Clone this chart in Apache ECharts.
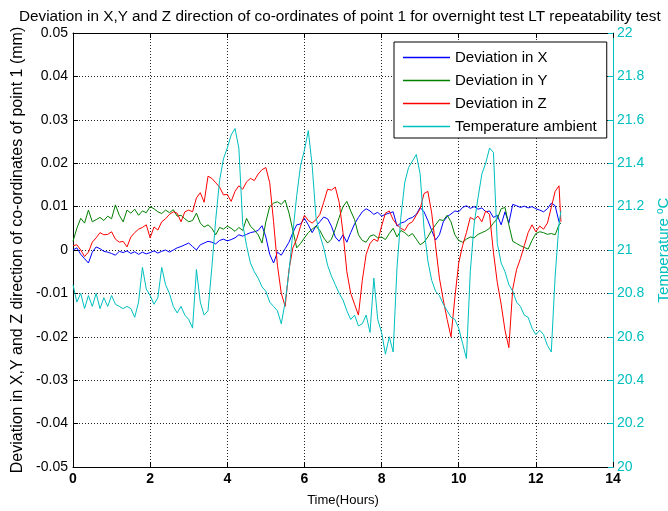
<!DOCTYPE html>
<html>
<head>
<meta charset="utf-8">
<script src="https://cdn.jsdelivr.net/npm/echarts@6/dist/echarts.min.js"></script>
<style>
html,body{margin:0;padding:0;background:#fff;}
#chart{width:668px;height:511px;}
</style>
</head>
<body>
<div id="chart"></div>
<script>
// Time samples (hours)
const hours = [
0,0.1,0.2,0.3,0.4,0.5,0.6,0.7,0.8,0.9,
1,1.1,1.2,1.3,1.4,1.5,1.6,1.7,1.8,1.9,
2,2.1,2.2,2.3,2.4,2.5,2.6,2.7,2.8,2.9,
3,3.1,3.2,3.3,3.4,3.5,3.6,3.7,3.8,3.9,
4,4.1,4.2,4.3,4.4,4.5,4.6,4.7,4.8,4.9,
5,5.1,5.2,5.3,5.4,5.5,5.6,5.7,5.8,5.9,
6,6.1,6.2,6.3,6.4,6.5,6.6,6.7,6.8,6.9,
7,7.1,7.2,7.3,7.4,7.5,7.6,7.7,7.8,7.9,
8,8.1,8.2,8.3,8.4,8.5,8.6,8.7,8.8,8.9,
9,9.1,9.2,9.3,9.4,9.5,9.6,9.7,9.8,9.9,
10,10.1,10.2,10.3,10.4,10.5,10.6,10.7,10.8,10.9,
11,11.1,11.2,11.3,11.4,11.5,11.6,11.7,11.8,11.9,
12,12.1,12.2,12.3,12.4,12.5,12.6,12.65
];

// Deviation in X (mm)
const devX = [
0,0.0005,-0.001,-0.002,-0.003,-0.0005,0.0007,0.0003,-0.0003,-0.0005,
-0.0008,-0.0012,-0.0003,-0.0006,-0.0002,-0.0008,-0.0004,-0.001,-0.0005,-0.0009,
-0.0006,-0.0002,-0.0007,-0.0003,0,-0.0005,0,0.0005,0.0008,0.0012,
0.0016,0.0008,0,0.0012,0.0016,0.002,0.0018,0.0014,0.0022,0.0025,
0.0021,0.0024,0.0028,0.0035,0.0032,0.0036,0.004,0.0042,0.0045,0.0056,
0.003,-0.001,-0.003,-0.0005,-0.0012,0.0003,0.0018,0.004,0.0058,0.006,
0.0073,0.0058,0.004,0.0055,0.0065,0.0076,0.0072,0.0055,0.003,0.002,
0.0035,0.0018,0.004,0.006,0.0075,0.0088,0.0095,0.009,0.0082,0.0087,
0.0078,0.0082,0.0085,0.0088,0.0055,0.0062,0.0065,0.0072,0.0075,0.0082,
0.0098,0.0088,0.0068,0.0045,0.0023,0.0035,0.0065,0.0077,0.0083,0.009,
0.0088,0.0098,0.0102,0.0096,0.01,0.0094,0.0097,0.0088,0.009,0.0075,
0.008,0.0058,0.0088,0.0062,0.0105,0.0102,0.0098,0.0101,0.0097,0.01,
0.0095,0.0092,0.0088,0.0095,0.0108,0.0102,0.0065,0.006
];

// Deviation in Y (mm)
const devY = [
0.002,0.005,0.0073,0.0062,0.0092,0.0065,0.007,0.0075,0.0068,0.0078,
0.0072,0.0104,0.008,0.0065,0.0092,0.0085,0.0094,0.008,0.009,0.0086,
0.01,0.0095,0.0088,0.0084,0.0092,0.0086,0.0093,0.0078,0.008,0.0072,
0.0065,0.0068,0.0085,0.0062,0.0053,0.0058,0.005,0.0035,0.0052,0.0048,
0.0055,0.005,0.0043,0.0052,0.0045,0.0073,0.0055,0.0046,0.0035,0.0016,
0.0065,0.01,0.0108,0.0111,0.0105,0.0115,0.0085,0.0045,0.0005,0.0015,
0.0028,0.004,0.0048,0.0055,0.0045,0.0028,0.0016,0.0025,0.0048,0.0075,
0.01,0.0112,0.009,0.007,0.0035,0.0022,0.0018,0.0032,0.0035,0.0028,
0.003,0.0024,0.0038,0.005,0.003,0.0045,0.004,0.0032,0.0038,0.0025,
0.0012,0.0018,0.003,0.0046,0.0058,0.007,0.0068,0.008,0.0065,0.0035,
0.0022,0.0018,0.0025,0.003,0.0028,0.0036,0.004,0.0044,0.005,0.0062,
0.0072,0.0095,0.0098,0.0058,0.002,0.0015,0.001,0.0006,0.0002,0.0022,
0.0038,0.0042,0.004,0.0036,0.0038,0.0035,0.0058,0.0062
];

// Deviation in Z (mm)
const devZ = [
0.001,0.0012,0,-0.0015,-0.0005,0.0018,0.0028,0.004,0.0035,0.0036,
0.0042,0.0025,0.0018,0.002,0.0007,0.003,0.004,0.0048,0.0052,0.0058,
0.0028,0.0053,0.0046,0.0065,0.0072,0.0082,0.0088,0.0085,0.0065,0.0088,
0.0092,0.0088,0.012,0.0132,0.011,0.017,0.0165,0.0155,0.0145,0.0127,
0.0128,0.0112,0.0135,0.0148,0.014,0.0157,0.0165,0.016,0.0175,0.0185,
0.019,0.0155,0.0065,-0.0035,-0.01,-0.013,-0.0045,0.0005,0.0025,0.0055,
0.008,0.0068,0.0062,0.007,0.0082,0.011,0.014,0.0138,0.0145,0.011,
0.004,-0.005,-0.01,-0.0125,-0.015,-0.007,-0.001,0.0015,0.0025,0.002,
0.0055,0.0085,0.009,0.007,0.0058,0.005,0.0045,0.006,0.0065,0.008,
0.0095,0.013,0.0135,0.0085,0.001,-0.0065,-0.0115,-0.016,-0.02,-0.011,
-0.003,0.001,0.004,0.0075,0.007,0.0078,0.0065,0.009,0.0082,-0.0005,
-0.0075,-0.0125,-0.0185,-0.0225,-0.009,-0.0045,-0.002,0.001,0.004,0.0058,
0.0042,0.0055,0.0048,0.0062,0.0098,0.0135,0.0148,0.0065
];

// Ambient temperature (deg C)
const tempAmbient = [
20.84,20.76,20.80,20.73,20.79,20.74,20.80,20.73,20.78,20.74,
20.79,20.75,20.74,20.73,20.74,20.73,20.69,20.76,20.92,20.82,
20.79,20.75,20.78,20.92,20.84,20.80,20.74,20.71,20.74,20.70,
20.68,20.64,20.91,20.76,20.70,20.72,20.92,21.14,21.32,21.42,
21.47,21.53,21.56,21.47,21.12,21.02,20.94,20.90,20.87,20.83,
20.81,20.76,20.74,20.72,20.66,20.76,20.90,21.08,21.25,21.39,
21.46,21.55,21.39,21.15,21.07,21.01,20.93,20.88,20.84,20.80,
20.77,20.72,20.68,20.70,20.65,20.66,20.70,20.62,20.87,20.68,
20.62,20.52,20.60,20.53,20.92,21.15,21.31,21.38,21.41,21.44,
21.35,21.10,20.95,20.86,20.81,20.79,20.75,20.72,20.69,20.68,
20.64,20.57,20.50,20.90,21.12,21.24,21.35,21.40,21.47,21.45,
21.03,20.94,20.90,20.84,20.81,20.76,20.74,20.70,20.69,20.64,
20.61,20.63,20.61,20.56,20.53,20.88,21.12,21.18
];

const seriesNames = ['Deviation in X','Deviation in Y','Deviation in Z','Temperature ambient'];
const seriesColors = ['#0000ff','#008000','#ff0000','#00bfbf'];
const FONT = 'Liberation Sans, Arial, sans-serif';
const CYAN = '#00bfbf';

const pair = arr => hours.map((t, i) => [t, arr[i]]);

const chart = echarts.init(document.getElementById('chart'), null, {renderer: 'canvas'});

const gridDotted = {show: true, lineStyle: {color: '#222', type: [1, 2], width: 1}};

chart.setOption({
  animation: false,
  backgroundColor: '#fff',
  textStyle: {fontFamily: FONT},
  title: {
    text: 'Deviation in X,Y and Z direction of co-ordinates of point 1 for overnight test LT repeatability test',
    left: 14, top: 4,
    textStyle: {fontFamily: FONT, fontSize: 15.3, fontWeight: 'normal', color: '#000'}
  },
  legend: {
    orient: 'vertical',
    left: 394, top: 42,
    data: seriesNames.map((n, i) => ({
      name: n,
      icon: 'path://M0,0 L47,0 L47,1.4 L0,1.4 Z',
      itemStyle: {color: seriesColors[i], borderWidth: 0}
    })),
    itemWidth: 47, itemHeight: 2,
    itemGap: 8,
    padding: [8, 10, 4, 9],
    backgroundColor: '#fff',
    borderColor: '#000', borderWidth: 1, borderRadius: 0,
    textStyle: {fontFamily: FONT, fontSize: 15, color: '#000'}
  },
  grid: {left: 73, right: 55, top: 33, bottom: 44, containLabel: false, outerBoundsMode: 'none'},
  xAxis: [{
    type: 'value', min: 0, max: 14, interval: 2, position: 'bottom',
    name: 'Time(Hours)', nameLocation: 'middle', nameGap: 27,
    nameTextStyle: {fontFamily: FONT, fontSize: 13, color: '#000'},
    axisLine: {show: true, onZero: false, lineStyle: {color: '#000', width: 1}},
    axisTick: {show: true, inside: true, length: 5, lineStyle: {color: '#000'}},
    axisLabel: {fontFamily: FONT, fontSize: 14, fontWeight: 'bold', color: '#000', margin: 5},
    splitLine: gridDotted
  }, {
    type: 'value', min: 0, max: 14, interval: 2, position: 'top',
    axisLine: {show: true, onZero: false, lineStyle: {color: '#000', width: 1}},
    axisTick: {show: true, inside: true, length: 5, lineStyle: {color: '#000'}},
    axisLabel: {show: false},
    splitLine: {show: false}
  }],
  yAxis: [{
    type: 'value', min: -0.05, max: 0.05, interval: 0.01, position: 'left',
    name: 'Deviation in X,Y and Z direction of co-ordinates of point 1 (mm)',
    nameLocation: 'middle', nameGap: 47, nameRotate: 90,
    nameTextStyle: {fontFamily: FONT, fontSize: 16, color: '#000'},
    axisLine: {show: true, onZero: false, lineStyle: {color: '#000', width: 1}},
    axisTick: {show: true, inside: true, length: 5, lineStyle: {color: '#000'}},
    axisLabel: {fontFamily: FONT, fontSize: 14, color: '#000', margin: 5,
      formatter: v => String(parseFloat(v.toFixed(2)))},
    splitLine: gridDotted
  }, {
    type: 'value', min: 20, max: 22, interval: 0.2, position: 'right',
    name: 'Temperature {sup|o}C',
    nameLocation: 'middle', nameGap: 41, nameRotate: 90,
    nameTextStyle: {fontFamily: FONT, fontSize: 15, color: CYAN,
      rich: {sup: {fontFamily: FONT, fontSize: 10, color: CYAN, verticalAlign: 'top', padding: [0, 0, 8, 0]}}},
    axisLine: {show: true, onZero: false, lineStyle: {color: CYAN, width: 1}},
    axisTick: {show: true, inside: true, length: 5, lineStyle: {color: CYAN}},
    axisLabel: {fontFamily: FONT, fontSize: 14, color: CYAN, margin: 4,
      formatter: v => String(parseFloat(v.toFixed(1)))},
    splitLine: {show: false}
  }],
  series: [
    {name: seriesNames[0], type: 'line', data: pair(devX), yAxisIndex: 0, showSymbol: false, symbol: 'none',
     lineStyle: {color: seriesColors[0], width: 1}, itemStyle: {color: seriesColors[0]}},
    {name: seriesNames[1], type: 'line', data: pair(devY), yAxisIndex: 0, showSymbol: false, symbol: 'none',
     lineStyle: {color: seriesColors[1], width: 1}, itemStyle: {color: seriesColors[1]}},
    {name: seriesNames[2], type: 'line', data: pair(devZ), yAxisIndex: 0, showSymbol: false, symbol: 'none',
     lineStyle: {color: seriesColors[2], width: 1}, itemStyle: {color: seriesColors[2]}},
    {name: seriesNames[3], type: 'line', data: pair(tempAmbient), yAxisIndex: 1, showSymbol: false, symbol: 'none',
     lineStyle: {color: seriesColors[3], width: 1}, itemStyle: {color: seriesColors[3]}}
  ]
});
</script>
</body>
</html>
